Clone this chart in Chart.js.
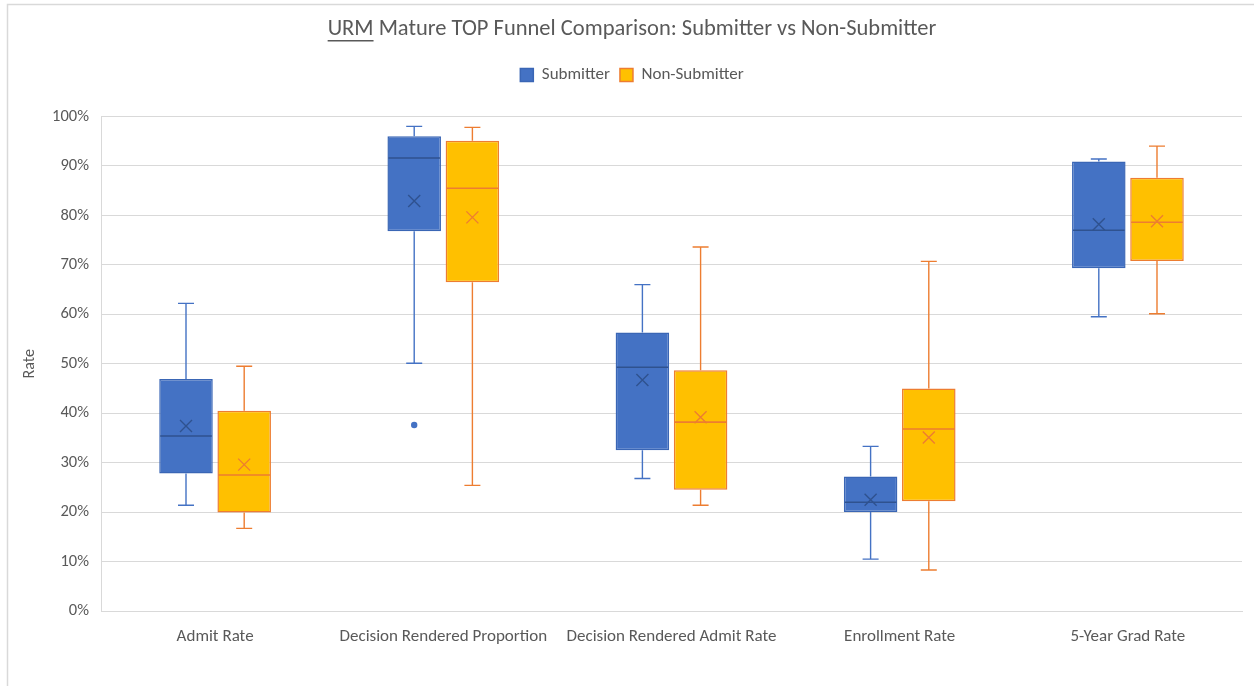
<!doctype html>
<html lang="en">
<head>
<meta charset="utf-8">
<title>URM Mature TOP Funnel Comparison</title>
<style>
  html, body { margin: 0; padding: 0; background: #fff; }
  #container { position: relative; width: 1254px; height: 686px; }
</style>
</head>
<body>
<div id="container"><canvas id="chart"></canvas></div>

<script src="https://cdn.jsdelivr.net/npm/chart.js@4.4.1/dist/chart.umd.min.js"></script>
<script>
const FONT = "Carlito, Calibri, Roboto, 'Liberation Sans', sans-serif";
const TEXT_COLOR = '#595959';
const TITLE = 'URM Mature TOP Funnel Comparison: Submitter vs Non-Submitter';
const TITLE_SIZE = 22.5;
const TITLE_PAD_TOP = 15.5;
const HEADER_SHIFT = 11;

const categories = ['Admit Rate', 'Decision Rendered Proportion', 'Decision Rendered Admit Rate', 'Enrollment Rate', '5-Year Grad Rate'];

// Submitter box stats
const subMin    = [0.214, 0.501, 0.268, 0.105, 0.595];
const subQ1     = [0.278, 0.768, 0.325, 0.200, 0.693];
const subMedian = [0.354, 0.916, 0.493, 0.220, 0.770];
const subQ3     = [0.469, 0.960, 0.563, 0.272, 0.909];
const subMax    = [0.622, 0.980, 0.660, 0.333, 0.914];
const subMean   = [0.374, 0.829, 0.467, 0.225, 0.782];
const subOutliers = [[], [0.376], [], [], []];

// Non-Submitter box stats
const nonMin    = [0.167, 0.254, 0.214, 0.083, 0.601];
const nonQ1     = [0.199, 0.665, 0.245, 0.222, 0.708];
const nonMedian = [0.275, 0.855, 0.382, 0.368, 0.786];
const nonQ3     = [0.405, 0.951, 0.487, 0.450, 0.876];
const nonMax    = [0.495, 0.978, 0.736, 0.707, 0.940];
const nonMean   = [0.296, 0.796, 0.392, 0.351, 0.788];
const nonOutliers = [[], [], [], [], []];

const yTicks = [0, 0.1, 0.2, 0.3, 0.4, 0.5, 0.6, 0.7, 0.8, 0.9, 1.0];

const series = [
    { label: 'Submitter', min: subMin, q1: subQ1, median: subMedian, q3: subQ3, max: subMax, mean: subMean, outliers: subOutliers,
      fill: '#4472C4', border: '#3A66B5', whisker: '#4472C4', mid: '#2F528F' },
    { label: 'Non-Submitter', min: nonMin, q1: nonQ1, median: nonMedian, q3: nonQ3, max: nonMax, mean: nonMean, outliers: nonOutliers,
      fill: '#FFC000', border: '#ED7D31', whisker: '#ED7D31', mid: '#ED7D31' }
];

// whiskers, medians, means and outliers on top of the floating bars
const boxExtras = {
    id: 'boxExtras',
    beforeLayout(chart) {
        const legend = chart.legend;
        if (legend && !legend._padded) {
            const fit = legend.fit;
            legend.fit = function () { fit.call(this); this.height += 23; };
            legend._padded = true;
        }
    },
    afterLayout(chart) {
        // Excel centres the header a bit right of the canvas middle
        [chart.titleBlock, chart.legend].forEach(b => {
            if (b) { b.left += HEADER_SHIFT; b.right += HEADER_SHIFT; }
        });
    },
    beforeDraw(chart) {
        const ctx = chart.ctx;
        ctx.save();
        ctx.strokeStyle = '#D9D9D9';
        ctx.lineWidth = 1.5;
        ctx.strokeRect(7.5, 4.5, chart.width + 10, chart.height + 10);
        ctx.restore();
    },
    afterDatasetsDraw(chart) {
        const ctx = chart.ctx;
        const y = chart.scales.y;
        ctx.save();
        series.forEach((s, di) => {
            const meta = chart.getDatasetMeta(di);
            meta.data.forEach((bar, i) => {
                const x = bar.x;
                const half = bar.width / 2;
                const cap = 8;
                ctx.strokeStyle = s.whisker;
                ctx.lineWidth = 1.4;
                ctx.beginPath();
                ctx.moveTo(x, y.getPixelForValue(s.q3[i]));
                ctx.lineTo(x, y.getPixelForValue(s.max[i]));
                ctx.moveTo(x - cap, y.getPixelForValue(s.max[i]));
                ctx.lineTo(x + cap, y.getPixelForValue(s.max[i]));
                ctx.moveTo(x, y.getPixelForValue(s.q1[i]));
                ctx.lineTo(x, y.getPixelForValue(s.min[i]));
                ctx.moveTo(x - cap, y.getPixelForValue(s.min[i]));
                ctx.lineTo(x + cap, y.getPixelForValue(s.min[i]));
                ctx.stroke();

                // median
                ctx.strokeStyle = s.mid;
                ctx.lineWidth = 1.6;
                const my = y.getPixelForValue(s.median[i]);
                ctx.beginPath();
                ctx.moveTo(x - half + 1, my);
                ctx.lineTo(x + half - 1, my);
                ctx.stroke();

                // mean marker
                const ey = y.getPixelForValue(s.mean[i]);
                const r = 6;
                ctx.lineWidth = 1.4;
                ctx.beginPath();
                ctx.moveTo(x - r, ey - r);
                ctx.lineTo(x + r, ey + r);
                ctx.moveTo(x + r, ey - r);
                ctx.lineTo(x - r, ey + r);
                ctx.stroke();

                // outliers
                ctx.fillStyle = s.fill;
                s.outliers[i].forEach(v => {
                    ctx.beginPath();
                    ctx.arc(x, y.getPixelForValue(v), 3.2, 0, Math.PI * 2);
                    ctx.fill();
                });
            });
        });
        ctx.restore();
    },
    afterDraw(chart) {
        // underline "URM" in the title
        const tb = chart.titleBlock;
        const ctx = chart.ctx;
        ctx.save();
        ctx.font = `${TITLE_SIZE}px ${FONT}`;
        const full = ctx.measureText(TITLE).width;
        const urm = ctx.measureText('URM').width;
        const startX = (tb.left + tb.right) / 2 - full / 2;
        const cy = tb.top + TITLE_PAD_TOP + TITLE_SIZE * 1.2 / 2;
        ctx.strokeStyle = TEXT_COLOR;
        ctx.lineWidth = 1.5;
        ctx.beginPath();
        ctx.moveTo(startX, cy + TITLE_SIZE * 0.52);
        ctx.lineTo(startX + urm, cy + TITLE_SIZE * 0.52);
        ctx.stroke();
        ctx.restore();
    }
};

const config = {
    type: 'bar',
    data: {
        labels: categories,
        datasets: series.map(s => ({
            label: s.label,
            data: s.q1.map((q, i) => [q, s.q3[i]]),
            backgroundColor: s.fill,
            borderColor: s.border,
            borderWidth: 1.5,
            borderSkipped: false,
            categoryPercentage: 0.51,
            barPercentage: 0.92
        }))
    },
    options: {
        responsive: true,
        maintainAspectRatio: false,
        animation: false,
        layout: { padding: { left: 0, right: 12, top: 0, bottom: 0 } },
        scales: {
            x: {
                grid: { display: false, drawTicks: false },
                border: { display: true, color: '#D9D9D9', width: 1 },
                ticks: { color: TEXT_COLOR, font: { family: FONT, size: 17 }, padding: 16, maxRotation: 0 },
                afterFit: scale => { scale.height = 75; }
            },
            y: {
                min: 0,
                max: 1,
                afterBuildTicks: scale => { scale.ticks = yTicks.map(v => ({ value: v })); },
                grid: { color: '#D9D9D9', lineWidth: 1, drawTicks: false },
                border: { display: true, color: '#D9D9D9', width: 1 },
                ticks: {
                    color: TEXT_COLOR,
                    font: { family: FONT, size: 16.5 },
                    padding: 12,
                    callback: v => Math.round(v * 100) + '%'
                },
                title: {
                    display: true,
                    text: 'Rate',
                    color: TEXT_COLOR,
                    font: { family: FONT, size: 16 },
                    padding: { top: 20, bottom: 0 }
                },
                afterFit: scale => { scale.width = 101; }
            }
        },
        plugins: {
            title: {
                display: true,
                text: TITLE,
                color: TEXT_COLOR,
                font: { family: FONT, size: TITLE_SIZE, weight: 'normal' },
                padding: { top: TITLE_PAD_TOP, bottom: 14 }
            },
            legend: {
                display: true,
                labels: {
                    color: TEXT_COLOR,
                    font: { family: FONT, size: 17 },
                    boxWidth: 13,
                    boxHeight: 13,
                    padding: 10
                }
            },
            tooltip: { enabled: false }
        }
    },
    plugins: [boxExtras]
};

const chart = new Chart('chart', config);
</script>
</body>
</html>
